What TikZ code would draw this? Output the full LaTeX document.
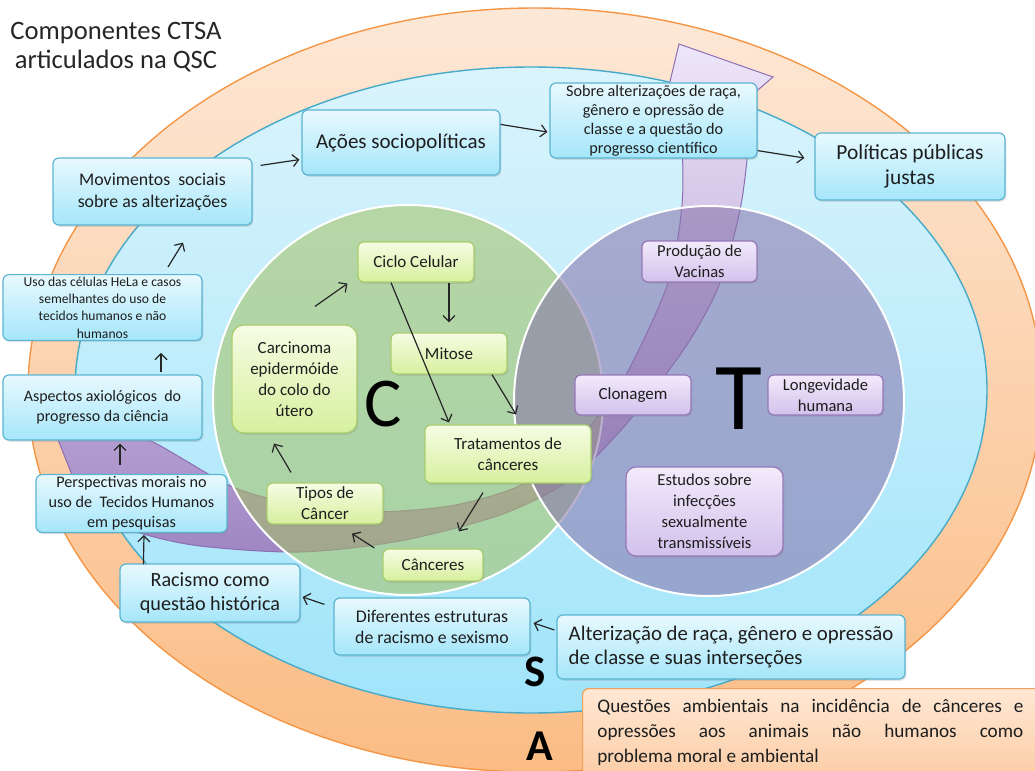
\documentclass[tikz,border=0pt]{standalone}
\usepackage{fontspec}
\setmainfont{Carlito}
\usetikzlibrary{arrows.meta,calc,shadows}
\definecolor{oTop}{RGB}{253,232,215}
\definecolor{oBot}{RGB}{251,188,132}
\definecolor{oLine}{RGB}{245,150,70}
\definecolor{eTop}{RGB}{218,244,252}
\definecolor{eBot}{RGB}{160,228,250}
\definecolor{eLine}{RGB}{70,170,200}
\definecolor{gC}{RGB}{164,193,97}
\definecolor{pC}{RGB}{135,113,170}
\definecolor{swTop}{RGB}{238,230,250}
\definecolor{swBot}{RGB}{160,135,195}
\definecolor{swLine}{RGB}{140,110,180}
\definecolor{bbTop}{RGB}{232,249,254}
\definecolor{bbBot}{RGB}{165,230,250}
\definecolor{bbLine}{RGB}{90,180,210}
\definecolor{gbTop}{RGB}{246,252,228}
\definecolor{gbBot}{RGB}{214,240,158}
\definecolor{gbLine}{RGB}{170,205,110}
\definecolor{pbTop}{RGB}{242,234,251}
\definecolor{pbBot}{RGB}{210,193,236}
\definecolor{pbLine}{RGB}{150,120,185}
\definecolor{obTop}{RGB}{255,232,212}
\definecolor{obBot}{RGB}{250,195,150}
\definecolor{obLine}{RGB}{245,160,90}
\definecolor{txt}{RGB}{30,30,30}
\begin{document}
\begin{tikzpicture}[x=0.5pt,y=-0.5pt,
  box/.style={rounded corners=3pt, inner sep=1pt, align=center, text=txt, line width=0.6pt,
    drop shadow={opacity=0.22,shadow xshift=0.7pt,shadow yshift=-0.9pt}},
  bbox/.style={box, draw=bbLine, top color=bbTop, bottom color=bbBot},
  gbox/.style={box, draw=gbLine, top color=gbTop, bottom color=gbBot},
  pbox/.style={box, draw=pbLine, top color=pbTop, bottom color=pbBot},
  obox/.style={box, draw=obLine, top color=obTop, bottom color=obBot},
  arr/.style={-{Straight Barb[length=3pt,width=6pt]}, line width=0.6pt, black!85},
  swoosh/.style={top color=swTop, bottom color=swBot, draw=swLine, line width=0.5pt},
  big/.style={inner sep=0pt, text=black}
]
\useasboundingbox (0,0) rectangle (1035,771);
\clip (0,0) rectangle (1035,771);

% outer ellipses
\path[top color=oTop, bottom color=oBot, draw=oLine, line width=0.7pt] (535,390) ellipse [x radius=507, y radius=382];
\path[top color=eTop, bottom color=eBot, draw=eLine, line width=0.7pt] (531,390) ellipse [x radius=456, y radius=323];

% swoosh arrow
\path[swoosh] (679,44) -- (773,77) -- (752,95)
  -- plot[smooth] coordinates {(752,95) (748,150) (740,210) (720,283) (690,340) (650,395) (612,440) (567,482) (500,515) (400,541) (300,552) (200,546) (140,533) (100,515)}
  -- (72,475) -- (55,432)
  -- plot[smooth] coordinates {(60,426) (110,428) (153,442) (233,487) (300,505) (370,512) (450,506) (517,487) (560,458) (595,420) (627,373) (668,283) (682,205) (681,140) (668,90)}
  -- cycle;

% circles
\fill[gC, fill opacity=0.55] (408,400) circle [radius=195];
\draw[white, line width=1pt] (408,400) circle [radius=195];
\fill[pC, fill opacity=0.55] (709,401) circle [radius=195];
\draw[white, line width=1pt] (709,401) circle [radius=195];

% big letters
\node[big, font=\fontsize{35}{35}\selectfont] (C) at (383,404) {C};
\node[big, font=\fontsize{48}{48}\selectfont] (T) at (739,399) {T};
\node[big, font=\bfseries\fontsize{22.5}{22.5}\selectfont] (S) at (535,672) {S};
\node[big, font=\bfseries\fontsize{22}{22}\selectfont] (A) at (540,746) {A};

% title
\node[align=center, text=black!85, inner sep=0pt, font=\fontsize{13.3}{14.5}\selectfont] (title) at (116,47) {Componentes CTSA\\articulados na QSC};

% blue boxes
\node[bbox, minimum width=99.5pt, minimum height=33.5pt, font=\fontsize{8.9}{11}\selectfont] (mov) at (152.5,191.5) {Movimentos \ sociais\\sobre as alterizações};
\node[bbox, minimum width=99pt, minimum height=32.5pt, font=\fontsize{10.5}{11}\selectfont] (acoes) at (401,142.5) {Ações sociopolíticas};
\node[bbox, minimum width=103.5pt, minimum height=37.5pt, font=\fontsize{8.1}{9.5}\selectfont] (sobre) at (653.5,120.5) {Sobre alterizações de raça,\\gênero e opressão de\\classe e a questão do\\progresso científico};
\node[bbox, minimum width=95pt, minimum height=33.5pt, font=\fontsize{10.7}{12.5}\selectfont] (pol) at (910,166.5) {Políticas públicas\\justas};
\node[bbox, minimum width=99.5pt, minimum height=32.5pt, font=\fontsize{6.8}{8.7}\selectfont] (uso) at (102.5,307.5) {Uso das células HeLa e casos\\semelhantes do uso de\\tecidos humanos e não\\humanos};
\node[bbox, minimum width=99.5pt, minimum height=32.5pt, font=\fontsize{8}{10}\selectfont] (asp) at (102.5,407.5) {Aspectos axiológicos \ do\\progresso da ciência};
\node[bbox, minimum width=95.5pt, minimum height=28.5pt, font=\fontsize{8.1}{10}\selectfont] (persp) at (131.5,503.5) {Perspectivas morais no\\uso de \ Tecidos Humanos\\em pesquisas};
\node[bbox, minimum width=90pt, minimum height=29pt, font=\fontsize{10.1}{12}\selectfont] (rac) at (210,593) {Racismo como\\questão histórica};
\node[bbox, minimum width=98pt, minimum height=28.5pt, font=\fontsize{8.9}{10.5}\selectfont] (dif) at (432,626.5) {Diferentes estruturas\\de racismo e sexismo};
\node[bbox, minimum width=174pt, minimum height=32pt, font=\fontsize{10.4}{11.7}\selectfont, align=left] (alt) at (731,647) {Alterização de raça, gênero e opressão\\de classe e suas interseções};

% orange box
\node[obox, anchor=north west, minimum width=240pt, minimum height=60pt] (quest) at (582,688) {};
\node[anchor=north west, inner sep=0pt, text width=213pt, align=justify, text=txt, font=\fontsize{9.6}{12.5}\selectfont] (questtxt) at (597,699) {Questões ambientais na incidência de cânceres e\linebreak opressões aos animais não humanos como\linebreak problema moral e ambiental};

% green boxes
\node[gbox, minimum width=58pt, minimum height=20pt, font=\fontsize{8.5}{10.5}\selectfont] (ciclo) at (416,262) {Ciclo Celular};
\node[gbox, minimum width=58pt, minimum height=20.5pt, font=\fontsize{8.5}{10.5}\selectfont] (mitose) at (449,353.5) {Mitose};
\node[gbox, rounded corners=6pt, minimum width=62.5pt, minimum height=54pt, font=\fontsize{8.5}{10.5}\selectfont] (carc) at (294.5,379) {Carcinoma\\epidermóide\\do colo do\\útero};
\node[gbox, minimum width=83pt, minimum height=29pt, font=\fontsize{8.5}{10.5}\selectfont] (trat) at (508,454) {Tratamentos de\\cânceres};
\node[gbox, minimum width=58pt, minimum height=20.5pt, font=\fontsize{8.5}{10.5}\selectfont] (tipos) at (325,503.5) {Tipos de\\Câncer};
\node[gbox, minimum width=50pt, minimum height=16pt, font=\fontsize{8.5}{10.5}\selectfont] (canc) at (433,565) {Cânceres};

% purple boxes
\node[pbox, minimum width=57.5pt, minimum height=20.5pt, font=\fontsize{8.3}{10.5}\selectfont] (vac) at (699.5,261.5) {Produção de\\Vacinas};
\node[pbox, minimum width=58pt, minimum height=20pt, font=\fontsize{8.5}{10.5}\selectfont] (clon) at (633,395) {Clonagem};
\node[pbox, minimum width=57.5pt, minimum height=20pt, font=\fontsize{8.3}{10.5}\selectfont] (long) at (825.5,395) {Longevidade\\humana};
\node[pbox, rounded corners=5pt, minimum width=78.5pt, minimum height=44.5pt, font=\fontsize{8.3}{10.5}\selectfont] (est) at (704.5,511.5) {Estudos sobre\\infecções\\sexualmente\\transmissíveis};

% arrows
\draw[arr] ($(mov.north east)+(8,8)$) -- ($(acoes.south west)+(-2,-16)$);
\draw[arr] ($(acoes.north east)+(0,15)$) -- ($(sobre.west)+(-2,11.5)$);
\draw[arr] ($(sobre.south east)+(0,-8)$) -- ($(pol.west)+(-10,-8.5)$);
\draw[arr] ($(uso.north)+(65.5,-7)$) -- ($(mov.south)+(30.5,17)$);
\draw[arr] ($(asp.north)+(58.5,-2)$) -- ($(uso.south)+(58.5,12)$);
\draw[arr] ($(persp.north)+(-11.5,-9)$) -- ($(asp.south)+(17.5,3)$);
\draw[arr] ($(rac.north west)+(24,1)$) -- ($(persp.south)+(12.5,2)$);
\draw[arr] ($(dif.north west)+(-9,7)$) -- ($(rac.east)+(2,4)$);
\draw[arr] ($(alt.west)+(-2,-17)$) -- ($(dif.east)+(3,-3.5)$);
\draw[arr] ($(carc.north)+(20.5,-18)$) -- ($(ciclo.south west)+(-10,1)$);
\draw[arr] ($(ciclo.south)+(33,0)$) -- ($(mitose.north)+(0,-10)$);
\draw[arr] ($(ciclo.south)+(-25,0)$) -- ($(trat.north)+(-59,-2)$);
\draw[arr] ($(mitose.south)+(43,0)$) -- ($(trat.north)+(8,-10)$);
\draw[arr] ($(trat.south)+(-25,9)$) -- ($(canc.north)+(26,-17)$);
\draw[arr] ($(canc.west)+(-8,-17)$) -- ($(tipos.south)+(27,9)$);
\draw[arr] ($(tipos.north)+(-34,-10)$) -- ($(carc.south)+(-20.5,10)$);
\end{tikzpicture}
\end{document}
